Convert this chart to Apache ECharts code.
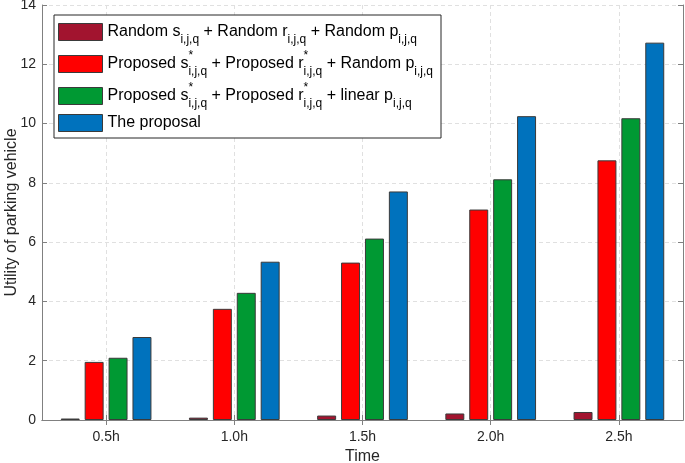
<!DOCTYPE html>
<html>
<head>
<meta charset="utf-8">
<script src="https://cdn.jsdelivr.net/npm/echarts@6/dist/echarts.min.js"></script>
<style>
  html, body { margin: 0; padding: 0; background: #fff; }
  #main { width: 685px; height: 463px; }
</style>
</head>
<body>
<div id="main"></div>
<script>
// data
var categories = ['0.5h', '1.0h', '1.5h', '2.0h', '2.5h'];
var randomAll = [0.05, 0.08, 0.15, 0.22, 0.27];
var proposedSR = [1.96, 3.75, 5.31, 7.1, 8.76];
var proposedLinear = [2.1, 4.29, 6.12, 8.12, 10.18];
var proposal = [2.8, 5.34, 7.71, 10.25, 12.73];

var seriesNames = ['Random', 'ProposedRandom', 'ProposedLinear', 'The proposal'];
var seriesColors = ['#A2142F', '#FF0000', '#009933', '#0072BD'];

// legend texts with sub/superscripts
var legendRich = {
  'Random': '{n|Random s}{sub|i,j,q}{n| + Random r}{sub|i,j,q}{n| + Random p}{sub|i,j,q}',
  'ProposedRandom': '{n|Proposed s}{sup|*}{sub|i,j,q}{n| + Proposed r}{sup|*}{sub|i,j,q}{n| + Random p}{sub|i,j,q}',
  'ProposedLinear': '{n|Proposed s}{sup|*}{sub|i,j,q}{n| + Proposed r}{sup|*}{sub|i,j,q}{n| + linear p}{sub|i,j,q}',
  'The proposal': '{n|The proposal}'
};

var font = '"Liberation Sans", Arial, sans-serif';
var axisGrey = '#808080';
var textCol = '#262626';

var myChart = echarts.init(document.getElementById('main'));

function bar(name, data, color) {
  return {
    name: name,
    type: 'bar',
    data: data,
    barWidth: '14.8%',
    barGap: '26%',
    itemStyle: { color: color, borderColor: '#3a3a3a', borderWidth: 1 }
  };
}

myChart.setOption({
  animation: false,
  textStyle: { fontFamily: font },
  grid: { left: 42, right: 2, top: 5, bottom: 43, outerBoundsMode: 'none' },
  legend: {
    orient: 'vertical',
    left: 54,
    top: 15,
    padding: [8, 8, 6, 4],
    itemGap: 4,
    itemWidth: 44,
    itemHeight: 17,
    backgroundColor: '#fff',
    borderColor: '#262626',
    borderWidth: 1,
    borderRadius: 0,
    icon: 'rect',
    itemStyle: { borderColor: '#3a3a3a', borderWidth: 1 },
    data: seriesNames,
    formatter: function (name) { return legendRich[name]; },
    textStyle: {
      rich: {
        n: { fontSize: 16, fontFamily: font, color: '#000', lineHeight: 24, verticalAlign: 'middle' },
        sub: { fontSize: 12, fontFamily: font, color: '#000', lineHeight: 28, verticalAlign: 'bottom' },
        sup: { fontSize: 12, fontFamily: font, color: '#000', lineHeight: 28, verticalAlign: 'top', width: 0 }
      }
    }
  },
  xAxis: [{
    type: 'category',
    data: categories,
    name: 'Time',
    nameLocation: 'middle',
    nameGap: 29,
    nameMoveOverlap: false,
    nameTextStyle: { fontSize: 16, color: textCol, fontFamily: font },
    axisLine: { lineStyle: { color: axisGrey } },
    axisTick: { show: true, inside: true, alignWithLabel: true, length: 5, lineStyle: { color: axisGrey } },
    axisLabel: { fontSize: 14, color: textCol, margin: 10 },
    splitLine: { show: true, alignWithLabel: true, lineStyle: { color: '#e0e0e0', type: [4, 3] } }
  }, {
    type: 'category',
    data: categories,
    position: 'top',
    axisLine: { lineStyle: { color: axisGrey } },
    axisTick: { show: true, inside: true, alignWithLabel: true, length: 5, lineStyle: { color: axisGrey } },
    axisLabel: { show: false }
  }],
  yAxis: [{
    type: 'value',
    min: 0,
    max: 14,
    interval: 2,
    name: 'Utility of parking vehicle',
    nameLocation: 'middle',
    nameGap: 22,
    nameMoveOverlap: false,
    nameTextStyle: { fontSize: 16, color: textCol, fontFamily: font },
    axisLine: { show: true, lineStyle: { color: axisGrey } },
    axisTick: { show: true, inside: true, length: 5, lineStyle: { color: axisGrey } },
    axisLabel: { fontSize: 14, color: textCol, margin: 6 },
    splitLine: { show: true, lineStyle: { color: '#e0e0e0', type: [4, 3] } }
  }, {
    type: 'value',
    min: 0,
    max: 14,
    interval: 2,
    position: 'right',
    axisLine: { show: true, lineStyle: { color: axisGrey } },
    axisTick: { show: true, inside: true, length: 5, lineStyle: { color: axisGrey } },
    axisLabel: { show: false },
    splitLine: { show: false }
  }],
  series: [
    bar(seriesNames[0], randomAll, seriesColors[0]),
    bar(seriesNames[1], proposedSR, seriesColors[1]),
    bar(seriesNames[2], proposedLinear, seriesColors[2]),
    bar(seriesNames[3], proposal, seriesColors[3])
  ]
});
</script>
</body>
</html>
